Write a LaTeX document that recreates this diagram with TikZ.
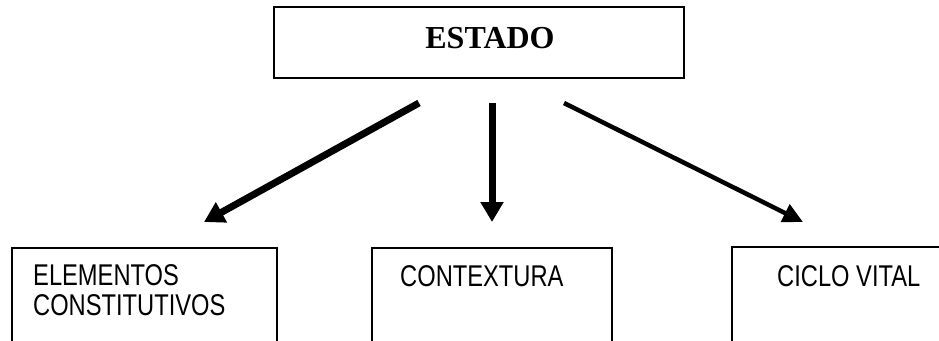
\documentclass[tikz,border=0pt]{standalone}
\usepackage{fontspec}
\setmainfont{Liberation Serif}
\newfontfamily\narrowsans[FakeStretch=0.79]{Liberation Sans}
\usetikzlibrary{arrows.meta}
\tikzset{
  box/.style={draw=black, line width=2pt, rectangle, inner sep=0pt},
  topbox/.style={box, line width=2.6pt},
  edge line/.style={draw=black, line width=2pt},
  lbl/.style={inner sep=0pt, anchor=base west, font=\narrowsans\fontsize{30}{30}\selectfont, align=left},
  thick arrow/.style={line width=7pt, -{Triangle[length=20pt,width=22pt]}},
  thin arrow/.style={line width=4.5pt, -{Triangle[length=20pt,width=19pt]}}
}
\begin{document}
\begin{tikzpicture}[x=1pt,y=-1pt]
\useasboundingbox (0,0) rectangle (939,340);
% top box
\node[topbox, minimum width=410pt, minimum height=71pt] (estado) at (479,42.5) {};
\node[inner sep=0pt, anchor=base, font=\bfseries\fontsize{32}{32}\selectfont] (estadotxt) at (490,48.5) {ESTADO};
% bottom boxes (cut off by the page edge)
\node[box, minimum width=265pt, minimum height=140pt, anchor=north west] (elem) at (11,247) {};
\node[box, minimum width=240pt, minimum height=140pt, anchor=north west] (cont) at (371,247) {};
\node[inner sep=0pt, minimum width=400pt, minimum height=140pt, anchor=north west] (ciclo) at (732,247) {};
\draw[edge line] (ciclo.south west) -- (ciclo.north west) -- (ciclo.north east);
\node[lbl] (elemtxt) at (33,315.5) {ELEMENTOS\\[0pt]CONSTITUTIVOS};
\node[lbl] (conttxt) at (400,286) {CONTEXTURA};
\node[lbl] (ciclotxt) at (777,286) {CICLO VITAL};
% arrow end points
\coordinate (s1) at (419,103);
\coordinate (e1) at (204,222);
\coordinate (s2) at (492,103);
\coordinate (e2) at (492,222);
\coordinate (s3) at (564,103);
\coordinate (e3) at (803,222);
\draw[thick arrow] (s1) -- (e1);
\draw[thick arrow] (s2) -- (e2);
\draw[thin arrow] (s3) -- (e3);
\end{tikzpicture}
\end{document}
